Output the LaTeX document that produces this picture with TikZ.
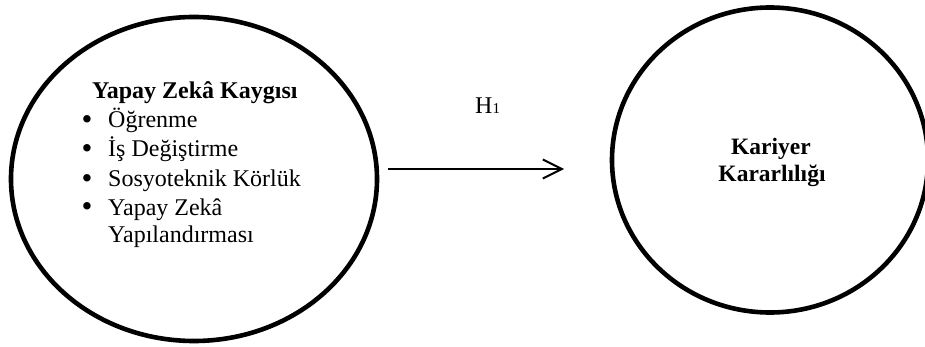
\documentclass[tikz,border=0pt]{standalone}
\usepackage{fontspec}
\setmainfont{Liberation Serif}
\usetikzlibrary{shapes.geometric,arrows.meta}
\begin{document}
\begin{tikzpicture}[x=1pt,y=-1pt,
  bubble/.style={draw=black,line width=4.6pt,ellipse,inner sep=0pt},
  txt/.style={inner sep=0pt,anchor=base west,font=\fontsize{24}{29}\selectfont},
  btxt/.style={inner sep=0pt,anchor=base,font=\fontsize{23.5}{28}\selectfont\bfseries},
  bul/.style={inner sep=0pt,anchor=base,font=\fontsize{31}{31}\selectfont},
  link/.style={line width=2pt,-{Straight Barb[length=19pt,width=19pt,line width=2pt]}}]
\useasboundingbox (0,0) rectangle (925,347);
\node[bubble,minimum width=366pt,minimum height=324pt] (L) at (194,179) {};
\node[bubble,minimum width=316pt,minimum height=305pt] (R) at (770,160) {};
\node[txt,font=\fontsize{24}{29}\selectfont\bfseries] (t0) at (92,99) {Yapay Zekâ Kaygısı};
\node[bul] (b1) at (87,130) {•};
\node[bul] (b2) at (87,159) {•};
\node[bul] (b3) at (87,189) {•};
\node[bul] (b4) at (87,217) {•};
\node[txt] (t1) at (108,128) {Öğrenme};
\node[txt] (t2) at (108,157) {İş Değiştirme};
\node[txt] (t3) at (108,187) {Sosyoteknik Körlük};
\node[txt] (t4) at (108,215) {Yapay Zekâ};
\node[txt] (t5) at (108,243) {Yapılandırması};
\node[btxt] (r1) at (771,155) {Kariyer};
\node[btxt] (r2) at (772,182) {Kararlılığı};
\node[txt] (h) at (475,114) {H{\fontsize{15}{18}\selectfont 1}};
\coordinate (s) at (388,169);
\coordinate (e) at (564,169);
\draw[link] (s) -- (e);
\end{tikzpicture}
\end{document}
